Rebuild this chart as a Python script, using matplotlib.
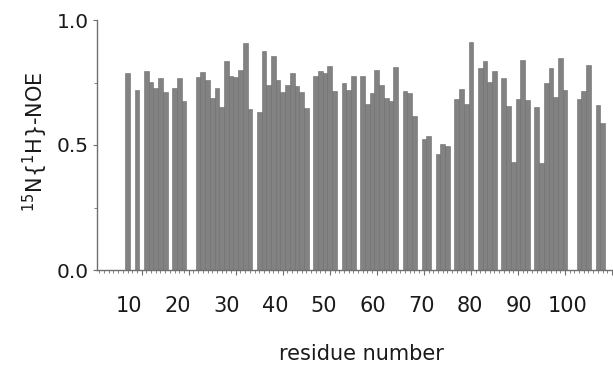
"""15N{1H} heteronuclear NOE per residue, bar chart."""

import matplotlib
matplotlib.use("Agg")
import matplotlib.pyplot as plt
from matplotlib.ticker import MultipleLocator, FixedLocator

# residues with a measured NOE (gaps = prolines / overlapped peaks)
residues = [
    7, 9, 11, 12, 13, 14, 15, 17, 18, 19,
    22, 23, 24, 25, 26, 27, 28, 29, 30, 31, 32, 33,
    35, 36, 37, 38, 39, 40, 41, 42, 43, 44, 45,
    47, 48, 49, 50, 51, 53, 54, 55,
    57, 58, 59, 60, 61, 62, 63, 64,
    66, 67, 68, 70, 71, 73, 74, 75,
    77, 78, 79, 80, 82, 83, 84, 85,
    87, 88, 89, 90, 91, 92, 94, 95, 96, 97, 98, 99, 100,
    103, 104, 105, 107, 108,
]
noe = [
    0.790, 0.720, 0.796, 0.752, 0.730, 0.770, 0.713, 0.727, 0.767, 0.675,
    0.773, 0.793, 0.760, 0.690, 0.730, 0.653, 0.838, 0.776, 0.773, 0.800, 0.910, 0.644,
    0.633, 0.877, 0.740, 0.857, 0.760, 0.713, 0.740, 0.787, 0.736, 0.711, 0.650,
    0.776, 0.796, 0.790, 0.816, 0.718, 0.750, 0.720, 0.777,
    0.778, 0.664, 0.710, 0.800, 0.740, 0.690, 0.675, 0.811,
    0.718, 0.710, 0.616, 0.523, 0.535, 0.464, 0.505, 0.496,
    0.686, 0.725, 0.665, 0.911, 0.808, 0.838, 0.751, 0.797,
    0.767, 0.656, 0.432, 0.683, 0.842, 0.680, 0.653, 0.430, 0.750, 0.810, 0.692, 0.848, 0.720,
    0.683, 0.718, 0.821, 0.660, 0.590,
]
x_labels = [10, 20, 30, 40, 50, 60, 70, 80, 90, 100]
y_major = [0.0, 0.5, 1.0]
y_minor = [0.25, 0.75]

BAR_COLOR = "#828282"
EDGE_COLOR = "#6c6c6c"
AXIS_COLOR = "#6f6f6f"
TEXT_COLOR = "#1a1a1a"

# the printed residue labels sit on a slightly wider grid than the bars
LABEL_SCALE = 0.967
LABEL_REF = 53.93


def to_label(r):
    return 55 + (r - LABEL_REF) * LABEL_SCALE


def from_label(v):
    return LABEL_REF + (v - 55) / LABEL_SCALE


def main() -> None:
    fig = plt.figure(figsize=(6.13, 3.65), dpi=100)
    ax = fig.add_axes([97 / 613, 95 / 365, 515 / 613, 250 / 365])

    ax.bar(residues, noe, width=1.0, color=BAR_COLOR,
           edgecolor=EDGE_COLOR, linewidth=0.4)

    ax.set_xlim(0.5, 110)
    ax.set_ylim(0, 1.0)

    for side in ("top", "right"):
        ax.spines[side].set_visible(False)
    for side in ("left", "bottom"):
        ax.spines[side].set_color(AXIS_COLOR)
        ax.spines[side].set_linewidth(1.0)

    # residue ticks on the main axis, no labels
    ax.xaxis.set_major_locator(MultipleLocator(10))
    ax.xaxis.set_minor_locator(MultipleLocator(1))
    ax.tick_params(axis="x", which="major", length=3.5, width=0.8,
                   color=AXIS_COLOR, labelbottom=False)
    ax.tick_params(axis="x", which="minor", length=1.8, width=0.6,
                   color=AXIS_COLOR)

    ax.yaxis.set_major_locator(FixedLocator(y_major))
    ax.yaxis.set_minor_locator(FixedLocator(y_minor))
    ax.set_yticklabels([f"{v:.1f}" for v in y_major])
    ax.tick_params(axis="y", which="major", length=3, width=0.8,
                   color=AXIS_COLOR, pad=3, labelsize=14.5,
                   labelcolor=TEXT_COLOR)
    ax.tick_params(axis="y", which="minor", length=2, width=0.6,
                   color=AXIS_COLOR)

    sec = ax.secondary_xaxis("bottom", functions=(to_label, from_label))
    sec.spines["bottom"].set_visible(False)
    sec.set_xticks(x_labels)
    sec.xaxis.set_minor_locator(FixedLocator([]))
    sec.tick_params(axis="x", length=0, pad=19, labelsize=15,
                    labelcolor=TEXT_COLOR)

    ax.set_xlabel("residue number", fontsize=15, color=TEXT_COLOR, va="center")
    ax.xaxis.set_label_coords(0.514, -0.336)
    ax.set_ylabel(r"$^{15}$N{$^{1}$H}-NOE", fontsize=15, color=TEXT_COLOR,
                  va="center")
    ax.yaxis.set_label_coords(-0.12, 0.512)

    fig.savefig("out.png", dpi=100)
    plt.close(fig)


if __name__ == "__main__":
    main()
